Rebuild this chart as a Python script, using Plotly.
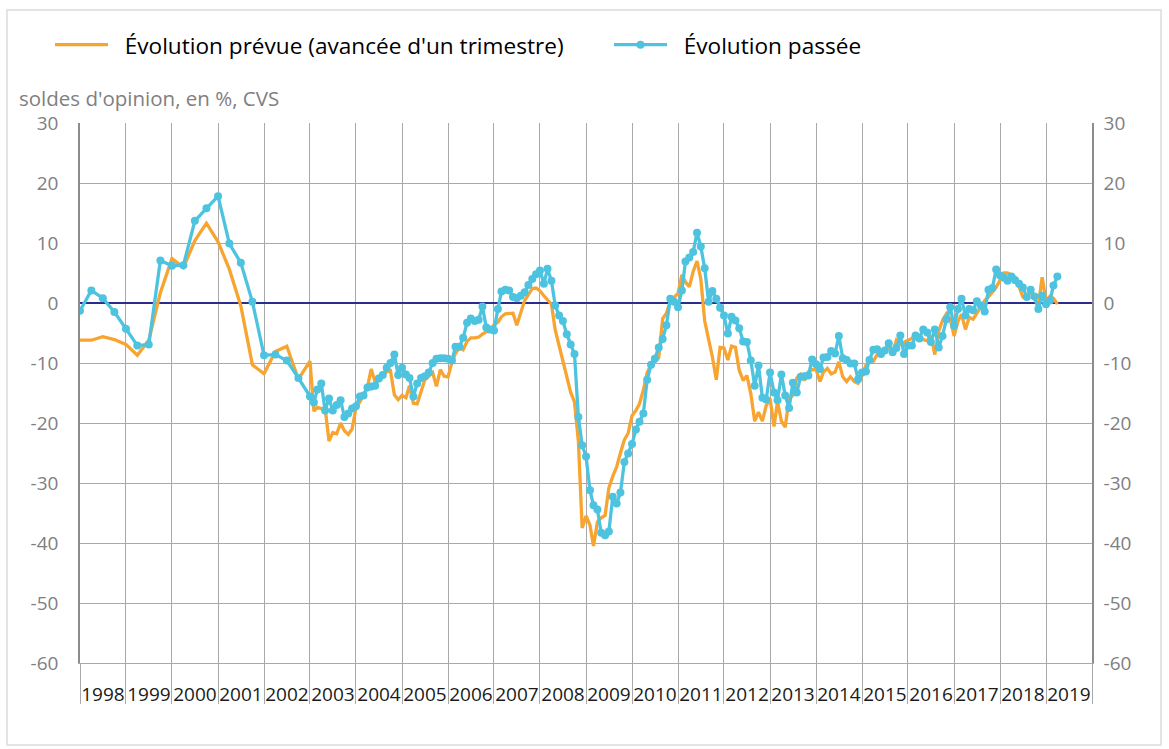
import pandas as pd
import plotly.graph_objects as go

# ---------------- data ----------------
years = list(range(1998, 2020))

# quarterly observations 1998Q1 - 2002Q4
q_passee = [-1.3, 2.1, 0.8, -1.5, -4.3, -7.1, -6.9, 7.1, 6.2, 6.3, 13.7, 15.8,
            17.8, 9.9, 6.7, 0.2, -8.7, -8.6, -9.6, -12.5]
q_prevue = [-6.2, -6.2, -5.6, -6.1, -6.9, -8.7, -6.2, 1.7, 7.4, 5.9, 10.4, 13.3,
            10.2, 5.6, -0.5, -10.3, -11.8, -8.1, -7.2, -12.7]

# monthly observations 2003-01 - 2019-04
m_passee = [
    -15.6, -16.6, -14.4, -13.4, -17.9, -15.9, -17.9, -17.0, -16.2, -19.0, -18.4, -17.6,  # 2003
    -17.2, -15.6, -15.4, -14.1, -13.9, -13.8, -12.6, -12.0, -10.8, -10.0, -8.6, -12.0,   # 2004
    -10.8, -11.9, -12.5, -15.6, -13.4, -12.5, -12.2, -11.6, -10.0, -9.3, -9.2, -9.2,     # 2005
    -9.3, -9.6, -7.3, -7.3, -5.8, -3.3, -2.6, -3.0, -2.8, -0.6, -4.1, -4.4,              # 2006
    -4.6, -1.0, 1.9, 2.2, 2.1, 1.0, 0.8, 1.2, 1.8, 3.0, 4.0, 4.8,                        # 2007
    5.4, 3.2, 5.7, 3.7, -0.4, -2.1, -3.0, -5.2, -6.9, -8.5, -19.0, -23.7,                # 2008
    -25.6, -31.2, -33.7, -34.4, -38.3, -38.7, -38.1, -32.3, -33.4, -31.6, -26.5, -25.1,  # 2009
    -23.5, -21.1, -19.8, -18.4, -12.8, -10.3, -9.3, -7.4, -6.0, -3.7, 0.7, 0.2,          # 2010
    -0.7, 2.1, 6.9, 7.6, 8.5, 11.7, 9.4, 5.8, 0.2, 2.0, 0.7, -0.8,                       # 2011
    -2.1, -5.1, -2.3, -2.9, -4.2, -6.4, -6.5, -9.6, -13.8, -10.4, -15.8, -16.1,          # 2012
    -11.6, -14.9, -16.2, -11.9, -15.4, -17.5, -13.3, -14.9, -12.3, -12.2, -12.1, -9.4,   # 2013
    -10.2, -11.0, -9.1, -9.0, -8.0, -8.4, -5.5, -9.2, -9.5, -10.1, -10.1, -12.7,         # 2014
    -11.6, -11.4, -9.5, -7.8, -7.7, -8.5, -7.9, -6.7, -8.2, -7.5, -5.4, -8.5,            # 2015
    -7.1, -7.1, -5.4, -5.9, -4.4, -4.9, -6.5, -4.4, -7.4, -5.5, -2.7, -0.7,              # 2016
    -3.8, -1.0, 0.7, -2.1, -1.0, -1.2, 0.3, -0.4, -1.4, 2.2, 2.5, 5.6,                   # 2017
    4.6, 4.2, 3.7, 4.4, 3.8, 3.2, 2.6, 1.0, 2.2, 1.1, -1.0, 1.2,                         # 2018
    -0.2, 0.4, 2.9, 4.4,                                                                 # 2019
]
m_prevue = [
    -9.7, -18.0, -17.4, -17.6, -17.5, -23.0, -21.6, -21.8, -20.0, -21.3, -21.9, -21.0,   # 2003
    -17.5, -16.5, -15.3, -14.0, -11.0, -13.2, -12.2, -12.0, -11.5, -11.3, -15.3, -16.1,  # 2004
    -15.4, -15.8, -13.8, -16.7, -16.8, -14.7, -12.8, -12.2, -11.6, -13.9, -11.1, -12.2,  # 2005
    -12.3, -9.9, -8.4, -7.5, -7.8, -6.4, -5.8, -5.8, -5.7, -5.2, -4.8, -4.7,             # 2006
    -3.6, -3.2, -2.3, -1.8, -1.7, -1.7, -3.7, -1.4, 0.4, 1.4, 2.4, 2.5,                  # 2007
    2.0, 1.2, 0.6, -0.2, -4.5, -7.0, -9.8, -12.3, -14.9, -16.5, -23.0, -37.5,            # 2008
    -35.5, -37.0, -40.5, -36.5, -35.8, -35.4, -30.8, -28.9, -27.3, -25.0, -22.8, -21.7,  # 2009
    -18.8, -17.9, -16.8, -14.5, -11.6, -10.3, -9.7, -9.1, -2.6, -1.7, 0.3, 0.9,          # 2010
    1.6, 4.7, 3.5, 2.7, 5.2, 7.0, 4.0, -3.0, -6.0, -9.0, -12.8, -7.4,                    # 2011
    -7.5, -9.5, -7.2, -7.4, -11.2, -12.9, -12.1, -15.1, -19.7, -18.2, -19.7, -17.1,      # 2012
    -15.9, -20.6, -16.5, -19.7, -20.7, -15.9, -15.4, -12.5, -11.9, -12.9, -11.5, -11.1,  # 2013
    -11.1, -13.1, -11.5, -10.9, -11.8, -11.5, -9.8, -12.3, -13.1, -12.3, -13.1, -13.4,   # 2014
    -12.1, -10.4, -9.6, -9.7, -8.6, -8.7, -7.9, -7.3, -8.2, -6.2, -6.9, -6.5,            # 2015
    -6.2, -5.9, -5.1, -5.4, -6.1, -6.3, -5.4, -8.6, -4.7, -2.9, -1.8, -2.7,              # 2016
    -5.5, -3.0, -1.9, -4.4, -2.4, -2.7, -1.6, -0.7, 0.4, 1.0, 1.8, 2.6,                  # 2017
    3.8, 5.0, 5.0, 4.7, 4.3, 2.7, 1.0, 0.7, 2.1, 0.7, -0.5, 4.3,                         # 2018
    0.4, 1.1, 0.8, -0.2,                                                                 # 2019
]

q_dates = pd.date_range("1998-01-01", "2002-10-01", freq="QS")
m_dates = pd.date_range("2003-01-01", "2019-04-01", freq="MS")
dates = list(q_dates) + list(m_dates)
passee = q_passee + m_passee
prevue = q_prevue + m_prevue

y_ticks = list(range(-60, 31, 10))
y_ticktext = [str(v) for v in y_ticks]
year_starts = [f"{y}-01-01" for y in years] + [f"{years[-1] + 1}-01-01"]
year_mids = [f"{y}-07-02" for y in years]
year_labels = [str(y) for y in years]

# ---------------- style ----------------
ORANGE = "#F7A431"
BLUE = "#4EC3E0"
NAVY = "#2B2C8C"
GRID = "#A9A9A9"
FONT = "Open Sans"
W, H = 1169, 749
L, R, T, B = 80, 77, 123, 86
pw, ph = W - L - R, H - T - B
x_range = [year_starts[0], year_starts[-1]]
NB = "\u00a0\u00a0"


def px_x(p):
    return (p - L) / pw


def px_y(p):
    return (H - B - p) / ph


def legend_at(x_px):
    return dict(orientation="h", xref="container", yref="container",
                x=x_px / W, y=1 - 45 / H, xanchor="left", yanchor="middle",
                font=dict(size=22.6, color="#000000", family=FONT),
                itemwidth=53, bgcolor="rgba(0,0,0,0)")


fig = go.Figure()
fig.add_trace(go.Scatter(
    x=dates, y=prevue, mode="lines",
    name=NB + "Évolution prévue (avancée d'un trimestre)",
    line=dict(color=ORANGE, width=3.3), legend="legend",
))
fig.add_trace(go.Scatter(
    x=dates, y=passee, mode="lines+markers",
    name=NB + "Évolution passée",
    line=dict(color=BLUE, width=3.3),
    marker=dict(color=BLUE, size=8), legend="legend2",
))
# helper trace for the secondary axes (labels only)
fig.add_trace(go.Scatter(x=[year_mids[0]], y=[0], xaxis="x2", yaxis="y2",
                         mode="markers", marker=dict(opacity=0),
                         showlegend=False, hoverinfo="skip"))

fig.update_layout(
    width=W, height=H,
    margin=dict(l=L, r=R, t=T, b=B, autoexpand=False),
    paper_bgcolor="white", plot_bgcolor="white",
    font=dict(family=FONT, size=19, color="#000000"),
    showlegend=True,
    legend=legend_at(50),
    legend2=legend_at(609),
    xaxis=dict(type="date", range=x_range, tickmode="array",
               tickvals=year_starts, showticklabels=False,
               ticks="outside", ticklen=40, tickcolor=GRID, tickwidth=1,
               showgrid=True, gridcolor=GRID, gridwidth=1, automargin=False,
               showline=True, linecolor=GRID, linewidth=1, zeroline=False),
    xaxis2=dict(type="date", range=x_range, overlaying="x", anchor="y",
                side="bottom", tickmode="array", tickvals=year_mids,
                ticktext=year_labels, ticks="outside", ticklen=14,
                tickcolor="rgba(0,0,0,0)", showgrid=False, showline=False,
                automargin=False,
                tickfont=dict(size=19, color="#1a1a1a"), zeroline=False),
    yaxis=dict(range=[-60, 30], tickmode="array", tickvals=y_ticks,
               ticktext=y_ticktext, automargin=False,
               showgrid=True, gridcolor=GRID, gridwidth=1,
               zeroline=True, zerolinecolor=NAVY, zerolinewidth=2,
               showline=True, linecolor="#8C8C8C", linewidth=1.5,
               ticks="outside", ticklen=16, tickcolor="rgba(0,0,0,0)",
               tickfont=dict(size=19, color="#808080")),
    yaxis2=dict(range=[-60, 30], overlaying="y", side="right", anchor="x",
                tickmode="array", tickvals=y_ticks, ticktext=y_ticktext,
                showgrid=False, automargin=False,
                zeroline=False, showline=True, linecolor="#8C8C8C",
                linewidth=1.5, ticks="outside", ticklen=6,
                tickcolor="rgba(0,0,0,0)",
                tickfont=dict(size=19, color="#808080")),
    annotations=[dict(text="soldes d'opinion, en %, CVS", xref="paper",
                      yref="paper", x=px_x(17), y=px_y(98), xanchor="left",
                      yanchor="middle", showarrow=False,
                      font=dict(size=20.5, color="#808080", family=FONT))],
    shapes=[dict(type="rect", xref="paper", yref="paper",
                 x0=px_x(7), y0=px_y(10), x1=px_x(1161), y1=px_y(745),
                 line=dict(color="#DCDCDC", width=1.5), layer="below")],
)

fig.write_html("out.html", config={"displayModeBar": False},
               post_script="document.body.style.margin='0';"
                           "document.body.style.overflow='hidden';")
